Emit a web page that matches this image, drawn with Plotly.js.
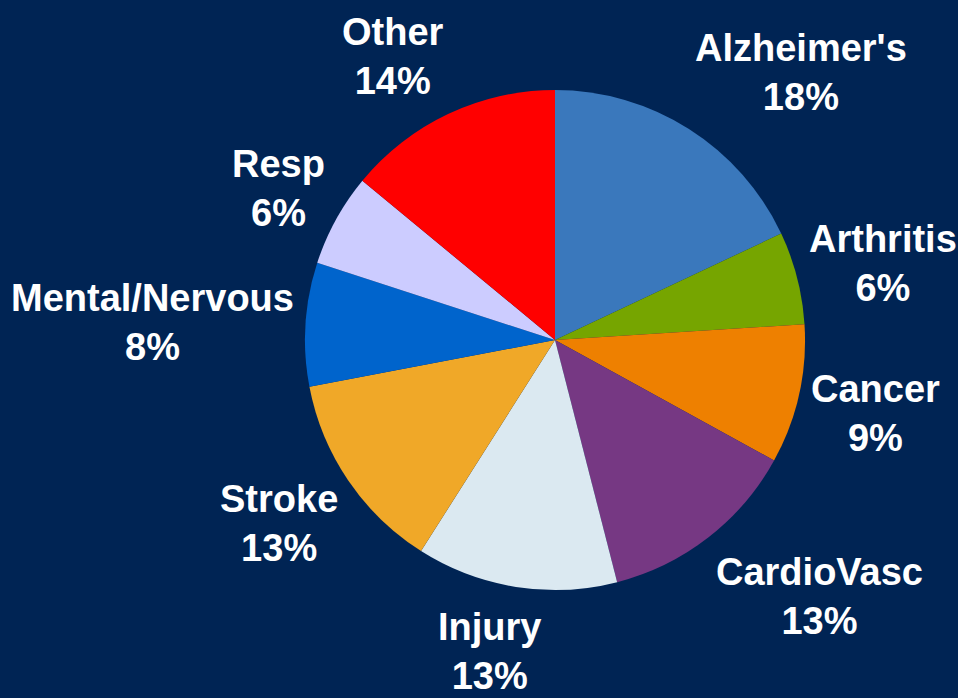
<!DOCTYPE html>
<html><head><meta charset="utf-8">
<script src="https://cdn.plot.ly/plotly-3.0.1.min.js"></script>
<style>html,body{margin:0;padding:0;background:#002454;}</style>
</head><body>
<div id="chart" style="width:958px;height:698px;"></div>
<script>
const categories = ["Alzheimer's","Arthritis","Cancer","CardioVasc","Injury","Stroke","Mental/Nervous","Resp","Other"];
const shares = [18,6,9,13,13,13,8,6,14];
const colors = ["#3a78bc","#76a500","#ee8000","#763883","#dbe9f1","#f0a828","#0064cc","#ccccff","#ff0000"];

// layout constants (pixels)
const W = 958, H = 698;
const CX = 555, CY = 340, R = 250;   // pie centre and radius
const GAP = 12;                      // label gap outside the rim
const FONT_SIZE = 38, FONT_FAMILY = 'Liberation Sans';
const LINE_H = FONT_SIZE * 1.3;

const ctx = document.createElement('canvas').getContext('2d');
ctx.font = 'bold ' + FONT_SIZE + 'px "' + FONT_FAMILY + '"';
const clamp = v => Math.max(-1, Math.min(1, v));

const total = shares.reduce((a, b) => a + b, 0);
let cum = 0;
const annotations = categories.map((cat, i) => {
  const mid = (cum + shares[i] / 2) / total * 2 * Math.PI;
  cum += shares[i];
  const s = Math.sin(mid), c = Math.cos(mid);
  const pct = shares[i] + '%';
  const w = Math.max(ctx.measureText(cat).width, ctx.measureText(pct).width);
  const h = 2 * LINE_H;
  const px = CX + (R + GAP) * s, py = CY - (R + GAP) * c;
  const bx = px + (w / 2) * clamp(3 * s);
  const by = py - (h / 2) * clamp(1.2 * c) + 3;
  return {
    xref: 'paper', yref: 'paper', x: bx / W, y: 1 - by / H,
    xanchor: 'center', yanchor: 'middle', showarrow: false,
    text: '<b>' + cat + '</b><br><b>' + pct + '</b>',
    align: 'center',
    font: {family: FONT_FAMILY + ', Arial, sans-serif', size: FONT_SIZE, color: '#ffffff'}
  };
});

Plotly.newPlot('chart', [{
  type: 'pie',
  labels: categories,
  values: shares,
  sort: false,
  direction: 'clockwise',
  rotation: 0,
  marker: {colors: colors, line: {width: 0}},
  textinfo: 'none',
  hoverinfo: 'none',
  showlegend: false,
  automargin: false,
  domain: {x: [(CX - R) / W, (CX + R) / W], y: [1 - (CY + R) / H, 1 - (CY - R) / H]}
}], {
  width: W, height: H,
  margin: {l: 0, r: 0, t: 0, b: 0},
  paper_bgcolor: '#002454',
  plot_bgcolor: '#002454',
  showlegend: false,
  annotations: annotations
}, {displayModeBar: false, staticPlot: true});
</script>
</body></html>
